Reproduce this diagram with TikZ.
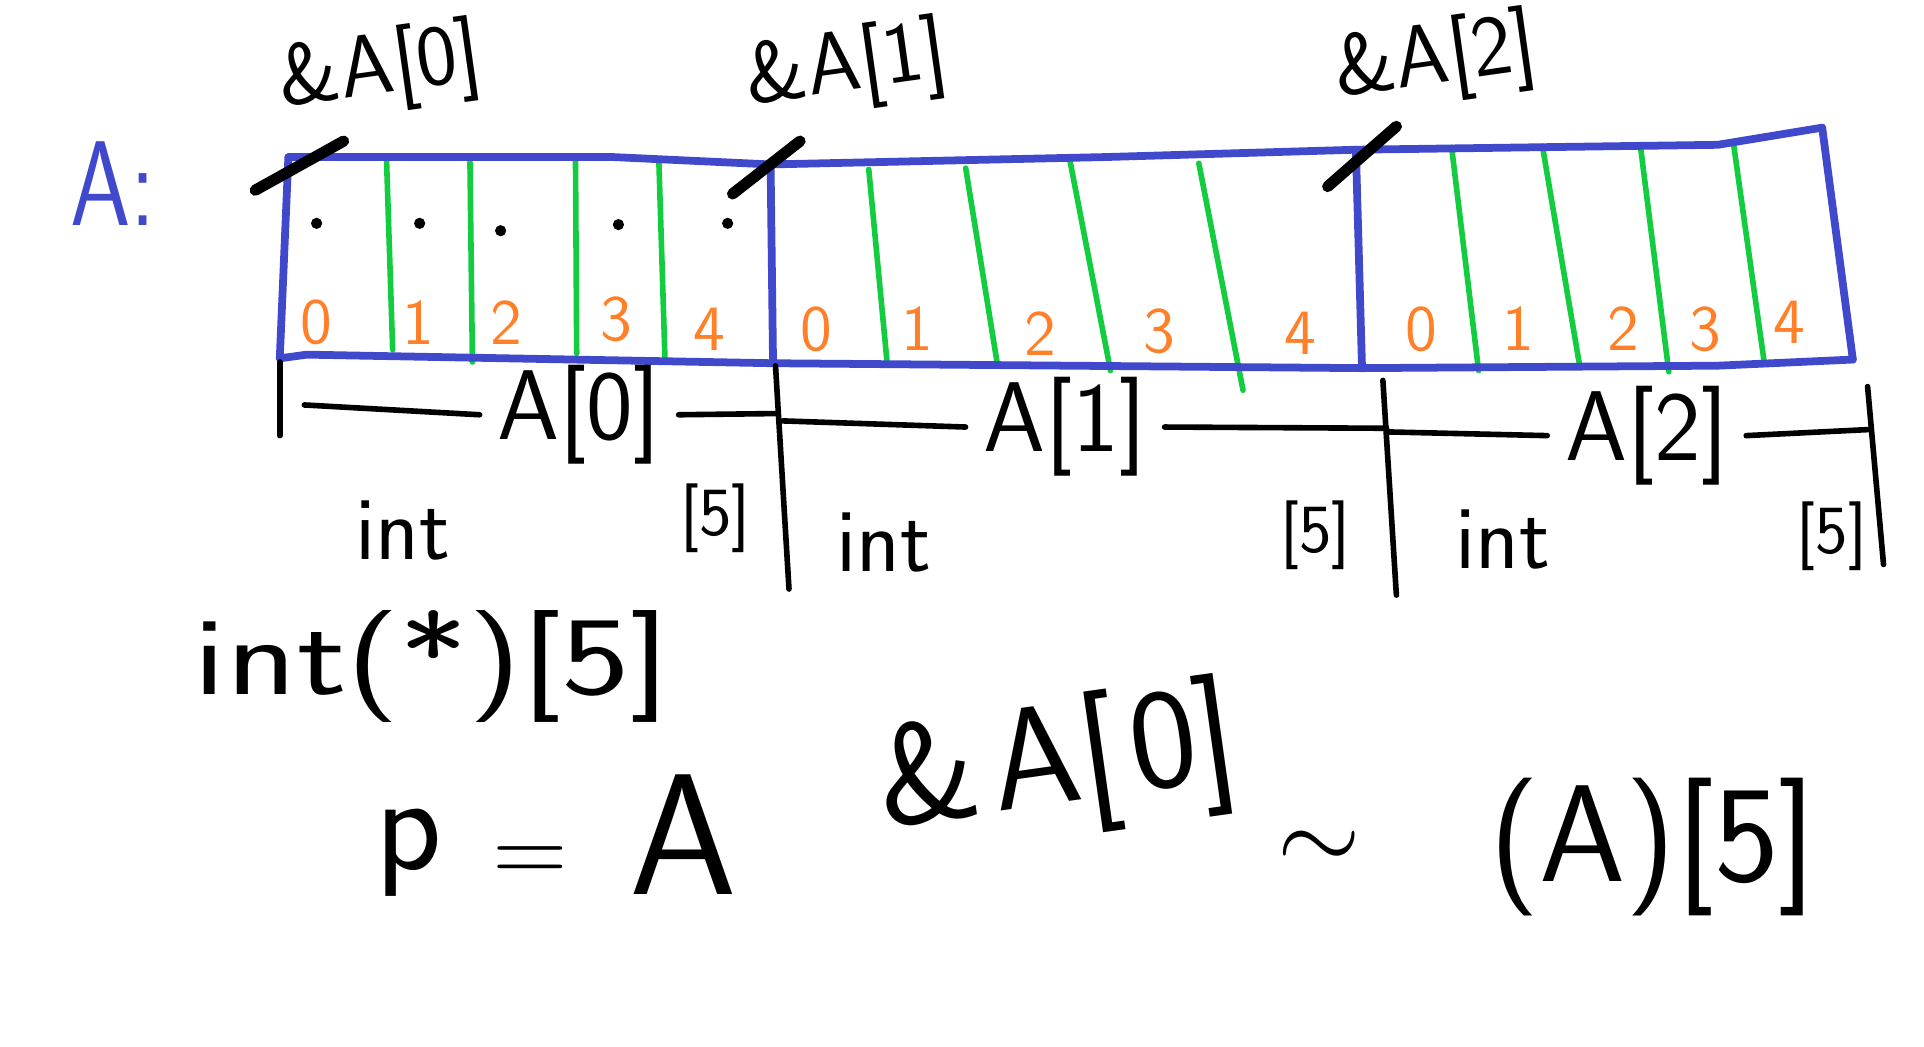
\documentclass[tikz,border=0pt]{standalone}
\usepackage{tikz}
\renewcommand{\familydefault}{\sfdefault}
\definecolor{arrblue}{RGB}{64,72,204}
\definecolor{cellgreen}{RGB}{20,204,64}
\definecolor{idxorange}{RGB}{255,128,40}
\tikzset{
  arr/.style={arrblue, line width=1.8pt, line join=round, line cap=round},
  cell/.style={cellgreen, line width=1.3pt, line cap=round},
  ink/.style={black, line width=1.3pt, line cap=round},
  slash/.style={black, line width=2.6pt, line cap=round},
  idx/.style={idxorange, font=\fontsize{15}{18}\selectfont},
  addr/.style={font=\fontsize{20}{24}\selectfont, rotate=8},
  dimlab/.style={font=\fontsize{23}{27}\selectfont, inner sep=4pt},
  typ/.style={font=\fontsize{21}{25}\selectfont},
  len/.style={font=\fontsize{16}{19}\selectfont}
}
\begin{document}
\begin{tikzpicture}
                                \useasboundingbox (0,0) rectangle (15.68,-8.53);
                                \node[arrblue, font=\fontsize{28}{34}\selectfont, xscale=0.8, transform shape] (name) at (0.92,-1.5) {A:};
                                % corners of the array
                                \coordinate (tl) at (2.35,-1.28);
                                \coordinate (t1) at (6.28,-1.34);
                                \coordinate (t2) at (11.05,-1.22);
                                \coordinate (tr) at (14.85,-1.04);
                                \coordinate (bl) at (2.28,-2.92);
                                \coordinate (b1) at (6.30,-2.96);
                                \coordinate (b2) at (11.10,-3.00);
                                \coordinate (br) at (15.10,-2.93);
                                \draw[cell] (3.15,-1.30) -- (3.20,-2.85);
                                \draw[cell] (3.83,-1.32) -- (3.85,-2.95);
                                \draw[cell] (4.69,-1.30) -- (4.70,-2.88);
                                \draw[cell] (5.37,-1.33) -- (5.42,-2.95);
                                \draw[cell] (7.08,-1.38) -- (7.23,-2.96);
                                \draw[cell] (7.87,-1.37) -- (8.13,-2.98);
                                \draw[cell] (8.72,-1.31) -- (9.05,-3.02);
                                \draw[cell] (9.77,-1.33) -- (10.13,-3.18);
                                \draw[cell] (11.83,-1.20) -- (12.05,-3.02);
                                \draw[cell] (12.57,-1.19) -- (12.87,-2.96);
                                \draw[cell] (13.37,-1.20) -- (13.60,-3.03);
                                \draw[cell] (14.13,-1.19) -- (14.38,-2.97);
                                \draw[arr] (tl) -- (5.0,-1.28) -- (t1) -- (9.0,-1.28) -- (t2) -- (14.0,-1.18) -- (tr);
                                \draw[arr] (bl) -- (2.5,-2.89) -- (b1) -- (b2) -- (14.0,-2.98) -- (br);
                                \draw[arr] (tl) -- (bl);
                                \draw[arr] (t1) -- (b1);
                                \draw[arr] (t2) -- (b2);
                                \draw[arr] (tr) -- (br);
                                \fill (2.58,-1.82) circle(1.3pt);
                                \fill (3.42,-1.82) circle(1.3pt);
                                \fill (4.08,-1.88) circle(1.3pt);
                                \fill (5.04,-1.83) circle(1.3pt);
                                \fill (5.93,-1.82) circle(1.3pt);
                                \node[idx] (i00) at (2.58,-2.63) {0};
                                \node[idx] (i01) at (3.41,-2.63) {1};
                                \node[idx] (i02) at (4.13,-2.63) {2};
                                \node[idx] (i03) at (5.02,-2.60) {3};
                                \node[idx] (i04) at (5.78,-2.68) {4};
                                \node[idx] (i10) at (6.65,-2.68) {0};
                                \node[idx] (i11) at (7.48,-2.68) {1};
                                \node[idx] (i12) at (8.48,-2.72) {2};
                                \node[idx] (i13) at (9.45,-2.70) {3};
                                \node[idx] (i14) at (10.60,-2.72) {4};
                                \node[idx] (i20) at (11.58,-2.68) {0};
                                \node[idx] (i21) at (12.37,-2.68) {1};
                                \node[idx] (i22) at (13.23,-2.68) {2};
                                \node[idx] (i23) at (13.90,-2.68) {3};
                                \node[idx] (i24) at (14.58,-2.63) {4};
                                % addresses
                                \node[addr] (ad0) at (3.10,-0.58) {\&A[0]};
                                \node[addr] (ad1) at (6.90,-0.56) {\&A[1]};
                                \node[addr] (ad2) at (11.70,-0.50) {\&A[2]};
                                \draw[slash] (2.08,-1.55) -- (2.80,-1.15);
                                \draw[slash] (5.97,-1.58) -- (6.52,-1.15);
                                \draw[slash] (10.82,-1.52) -- (11.38,-1.03);
                                % extents of the rows
                                \coordinate (k0) at (2.28,-2.95);
                                \coordinate (k0e) at (2.28,-3.55);
                                \coordinate (k1) at (6.32,-2.98);
                                \coordinate (k1e) at (6.43,-4.80);
                                \coordinate (k2) at (11.27,-3.10);
                                \coordinate (k2e) at (11.38,-4.85);
                                \coordinate (k3) at (15.22,-3.15);
                                \coordinate (k3e) at (15.35,-4.60);
                                \draw[ink] (k0) -- (k0e);
                                \draw[ink] (k1) -- (k1e);
                                \draw[ink] (k2) -- (k2e);
                                \draw[ink] (k3) -- (k3e);
                                \node[dimlab] (d0) at (4.72,-3.38) {A[0]};
                                \node[dimlab] (d1) at (8.68,-3.48) {A[1]};
                                \node[dimlab] (d2) at (13.42,-3.55) {A[2]};
                                \draw[ink] (2.48,-3.30) -- (d0.west);
                                \draw[ink] (d0.east) -- (6.33,-3.37);
                                \draw[ink] (6.38,-3.43) -- (d1.west);
                                \draw[ink] (d1.east) -- (11.30,-3.49);
                                \draw[ink] (11.32,-3.52) -- (d2.west);
                                \draw[ink] (d2.east) -- (15.24,-3.50);
                                \node[typ] (ty0) at (3.28,-4.32) {int};
                                \node[typ] (ty1) at (7.20,-4.42) {int};
                                \node[typ] (ty2) at (12.25,-4.40) {int};
                                \node[len] (n0) at (5.83,-4.22) {[5]};
                                \node[len] (n1) at (10.72,-4.36) {[5]};
                                \node[len] (n2) at (14.93,-4.37) {[5]};
                                % notes
                                \node[font=\fontsize{26}{32}\selectfont, xscale=1.3, transform shape] (ptrtype) at (3.52,-5.43) {int(*)[5]};
                                \node[font=\fontsize{32}{38}\selectfont] (p) at (3.33,-6.95) {p};
                                \node[font=\fontsize{24}{30}\selectfont] (eq) at (4.32,-7.05) {=};
                                \node[font=\fontsize{40}{48}\selectfont] (pa) at (5.57,-6.80) {A};
                                \node[rotate=8, font=\fontsize{33}{40}\selectfont] (first) at (8.62,-6.25) {\&\kern3pt A[\kern3pt 0]};
                                \node[font=\fontsize{40}{48}\selectfont] (approx) at (10.75,-6.93) {$\sim$};
                                \node[font=\fontsize{32}{38}\selectfont] (deref) at (13.47,-6.90) {(A)[5]};
                            \end{tikzpicture}
\end{document}
